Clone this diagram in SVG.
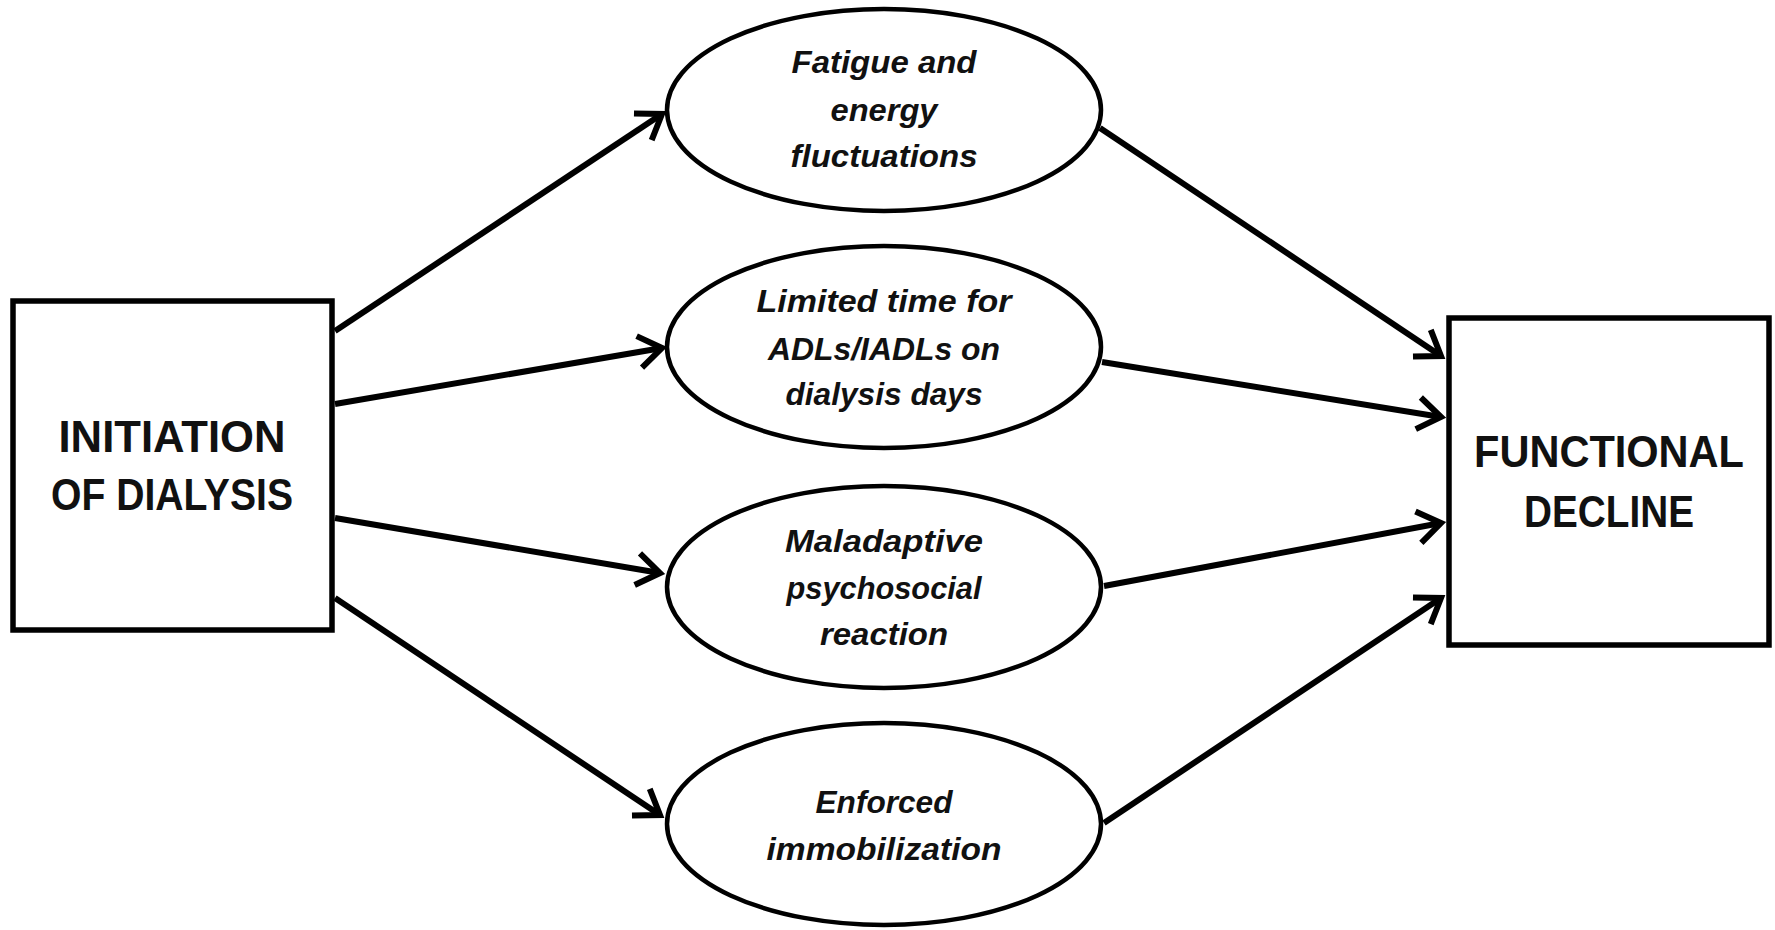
<svg xmlns="http://www.w3.org/2000/svg" width="1775" height="930" viewBox="0 0 1775 930">
<style>
.box{fill:#fff;stroke:#000;stroke-width:5.5}
.ell{fill:#fff;stroke:#000;stroke-width:4.5}
.bt{font-family:"Liberation Sans",Arial,sans-serif;font-weight:bold;font-size:44px;fill:#111;text-anchor:middle}
.et{font-family:"Liberation Sans",Arial,sans-serif;font-weight:bold;font-style:italic;font-size:31px;fill:#111;text-anchor:middle}
.edge{fill:none;stroke:#000;stroke-width:6;marker-end:url(#arr)}
</style>
<defs>
<marker id="arr" markerUnits="userSpaceOnUse" markerWidth="40" markerHeight="40" viewBox="0 0 40 40" refX="31" refY="20" orient="auto">
<path d="M8,4 L31,20 L8,36" fill="none" stroke="#000" stroke-width="6" stroke-linejoin="miter"/>
</marker>
</defs>
<rect width="1775" height="930" fill="#fff"/>
<g id="connectors">
<line class="edge" x1="335" y1="331" x2="662" y2="114"/>
<line class="edge" x1="335" y1="404" x2="662" y2="348"/>
<line class="edge" x1="335" y1="518" x2="660" y2="573"/>
<line class="edge" x1="335" y1="598" x2="660" y2="815"/>
<line class="edge" x1="1100" y1="128" x2="1441" y2="356"/>
<line class="edge" x1="1102" y1="362" x2="1441" y2="417"/>
<line class="edge" x1="1104" y1="586" x2="1441" y2="523"/>
<line class="edge" x1="1104" y1="823" x2="1441" y2="598"/>
</g>
<g id="initiation">
<rect class="box" x="13" y="301" width="319" height="329"/>
<text class="bt" x="172" y="452" textLength="227" lengthAdjust="spacingAndGlyphs">INITIATION</text>
<text class="bt" x="172" y="510" textLength="242" lengthAdjust="spacingAndGlyphs">OF DIALYSIS</text>
</g>
<g id="decline">
<rect class="box" x="1449" y="318" width="320" height="327"/>
<text class="bt" x="1609" y="467" textLength="270" lengthAdjust="spacingAndGlyphs">FUNCTIONAL</text>
<text class="bt" x="1609" y="527" textLength="170" lengthAdjust="spacingAndGlyphs">DECLINE</text>
</g>
<g id="fatigue">
<ellipse class="ell" cx="884" cy="110" rx="217" ry="101"/>
<text class="et" x="884" y="73" textLength="185" lengthAdjust="spacingAndGlyphs">Fatigue and</text>
<text class="et" x="884" y="121" textLength="107" lengthAdjust="spacingAndGlyphs">energy</text>
<text class="et" x="884" y="167" textLength="187" lengthAdjust="spacingAndGlyphs">fluctuations</text>
</g>
<g id="limited">
<ellipse class="ell" cx="884" cy="347" rx="217" ry="101"/>
<text class="et" x="884" y="312" textLength="255" lengthAdjust="spacingAndGlyphs">Limited time for</text>
<text class="et" x="884" y="360" textLength="232" lengthAdjust="spacingAndGlyphs">ADLs/IADLs on</text>
<text class="et" x="884" y="405" textLength="197" lengthAdjust="spacingAndGlyphs">dialysis days</text>
</g>
<g id="maladaptive">
<ellipse class="ell" cx="884" cy="587" rx="217" ry="101"/>
<text class="et" x="884" y="552" textLength="198" lengthAdjust="spacingAndGlyphs">Maladaptive</text>
<text class="et" x="884" y="599" textLength="195" lengthAdjust="spacingAndGlyphs">psychosocial</text>
<text class="et" x="884" y="645" textLength="128" lengthAdjust="spacingAndGlyphs">reaction</text>
</g>
<g id="enforced">
<ellipse class="ell" cx="884" cy="824" rx="217" ry="101"/>
<text class="et" x="884" y="813" textLength="137" lengthAdjust="spacingAndGlyphs">Enforced</text>
<text class="et" x="884" y="860" textLength="235" lengthAdjust="spacingAndGlyphs">immobilization</text>
</g>
</svg>
